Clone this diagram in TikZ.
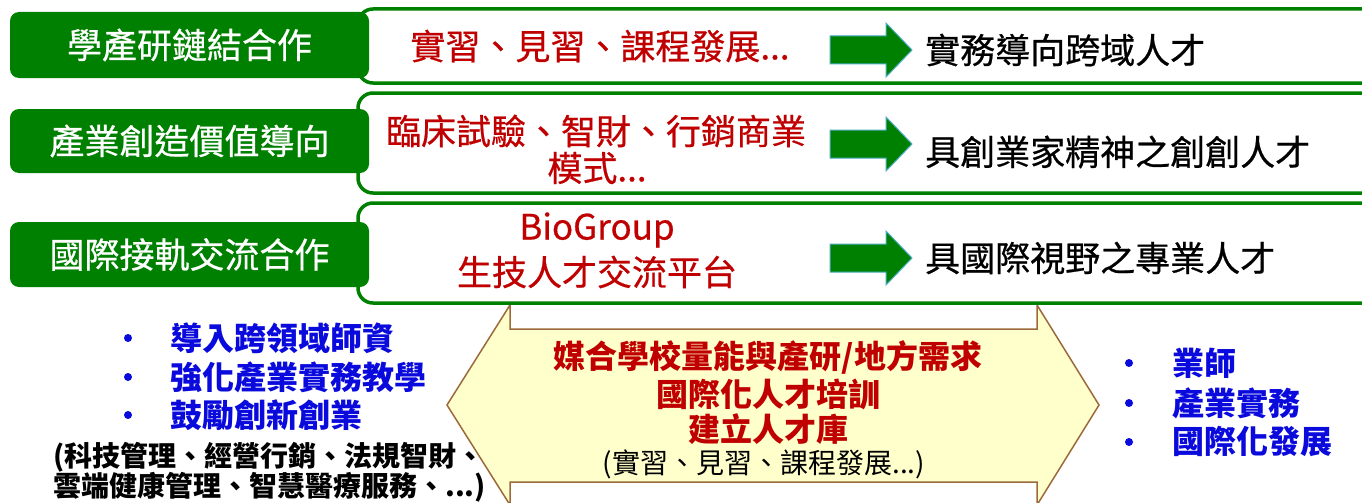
\documentclass[tikz,border=0pt]{standalone}
\usepackage{fontspec}
\newfontfamily\tc{Noto Sans CJK TC}
\newfontfamily\tcm{Noto Sans CJK TC}[FakeBold=0.6]
\usetikzlibrary{positioning}
\definecolor{grn}{HTML}{008000}
\definecolor{rd}{HTML}{C00000}
\definecolor{bl}{HTML}{0A0ADC}
\definecolor{yl}{HTML}{FFFFCC}
\definecolor{brn}{HTML}{9C6A3A}
\definecolor{sky}{HTML}{4BACC6}
\newcommand{\sz}[1]{\tc\fontsize{#1pt}{#1pt}\selectfont}
\newcommand{\szm}[1]{\tcm\fontsize{#1pt}{#1pt}\selectfont}
\tikzset{
  tag/.style={fill=grn,rounded corners=9pt,text=white,font=\szm{35},inner sep=0pt,minimum width=359pt},
  row/.style={draw=grn,line width=3.5pt,fill=white,rounded corners=15pt,minimum width=1020pt},
  kind/.style={text=rd,font=\szm{35},inner sep=0pt,align=center},
  goal/.style={font=\szm{35},inner sep=0pt,anchor=west},
  blk/.style={fill=grn,draw=sky,line width=1pt},
  hub/.style={fill=yl,draw=brn,line width=1.5pt},
  hubtxt/.style={text=rd,font=\sz{32}\bfseries,inner sep=0pt},
  pt/.style={text=bl,font=\sz{32}\bfseries,inner sep=0pt,anchor=west},
  note/.style={font=\sz{28}\bfseries,inner sep=0pt,anchor=west},
  bdot/.style={circle,fill=bl,inner sep=0pt,minimum size=8pt},
}
\begin{document}
\begin{tikzpicture}[x=1pt,y=-1pt]
\useasboundingbox (0,0) rectangle (1362,503);
\clip (0,0) rectangle (1362,503);
% two-way arrow at the bottom
\draw[hub] (447,405) -- (510,305) -- (510,329) -- (1037,329) -- (1037,305) -- (1099,405)
  -- (1037,505) -- (1037,482) -- (510,482) -- (510,505) -- cycle;
% rows
\node[row,minimum height=74pt] (b1) at (868,46) {};
\node[row,minimum height=100pt] (b2) at (868,143) {};
\node[row,minimum height=100pt] (b3) at (868,253) {};
\node[tag,minimum height=66pt] (t1) at (189.5,45) {學產研鏈結合作};
\node[tag,minimum height=64pt] (t2) at (189.5,141) {產業創造價值導向};
\node[tag,minimum height=65pt] (t3) at (189.5,254.5) {國際接軌交流合作};
\node[kind] (k1) at (600,46) {實習、見習、課程發展...};
\node[kind] (k2) at (596,131) {臨床試驗、智財、行銷商業};
\node[kind] (k2b) at (597,168) {模式...};
\node[kind] (k3) at (597,230) {BioGroup};
\node[kind] (k3b) at (597,272) {生技人才交流平台};
% block arrows and results
\foreach \y/\gy/\g [count=\i] in {50/50/實務導向跨域人才, 144/152/具創業家精神之創創人才, 258/258/具國際視野之專業人才} {
  \draw[blk] (830,\y-14) -- (886,\y-14) -- (886,\y-27) -- (912,\y) -- (886,\y+27)
    -- (886,\y+14) -- (830,\y+14) -- cycle;
  \node[goal] (g\i) at (925,\gy) {\g};
}
% text in the two-way arrow
\node[hubtxt] (h1) at (768,357) {媒合學校量能與產研/地方需求};
\node[hubtxt] (h2) at (768,394) {國際化人才培訓};
\node[hubtxt] (h3) at (768,429) {建立人才庫};
\node[font=\sz{28},inner sep=0pt] (h4) at (764,464) {(實習、見習、課程發展...)};
% left list
\foreach \y/\t [count=\i] in {338/導入跨領域師資, 377/強化產業實務教學, 415/鼓勵創新創業} {
  \node[bdot] (ld\i) at (128,\y) {};
  \node[pt] (l\i) at (170,\y) {\t};
}
\node[note] (n1) at (53,457) {(科技管理、經營行銷、法規智財、};
\node[note] (n2) at (53,487) {雲端健康管理、智慧醫療服務、...)};
% right list
\foreach \y/\t [count=\i] in {363/業師, 403/產業實務, 442/國際化發展} {
  \node[bdot] (rd\i) at (1129,\y) {};
  \node[pt] (r\i) at (1172,\y) {\t};
}
\end{tikzpicture}
\end{document}
